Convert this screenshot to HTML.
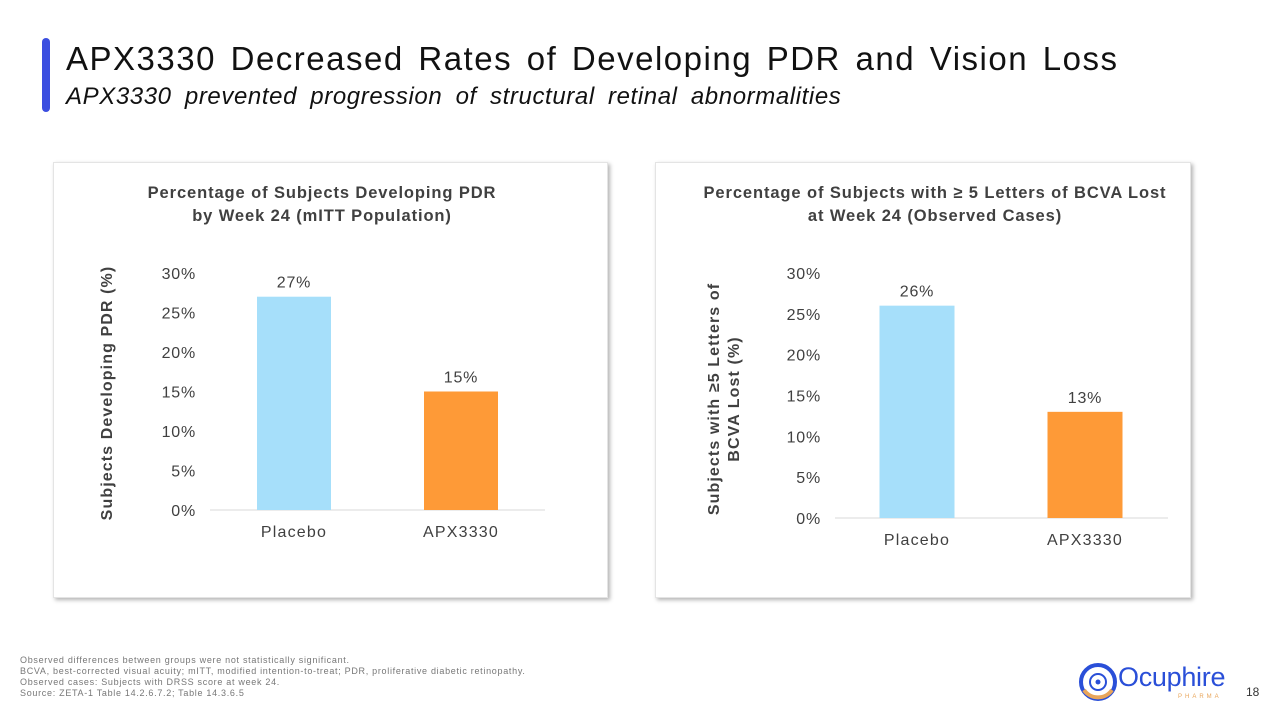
<!DOCTYPE html>
<html><head><meta charset="utf-8"><style>
body{margin:0;width:1280px;height:720px;background:#fff;font-family:"Liberation Sans",Arial,sans-serif;position:relative;overflow:hidden}
.abs{position:absolute}
.panel{position:absolute;background:#fff;box-shadow:2px 2px 4px rgba(0,0,0,0.3);border:1px solid #e4e4e4}
.foot{font-size:9px;color:#777;line-height:11px;letter-spacing:0.7px}
</style></head><body>
<div class="abs" style="left:42px;top:38px;width:8px;height:74px;background:#3b4ee0;border-radius:4px"></div>
<div class="abs" style="left:66px;top:40px;font-size:33px;letter-spacing:1.5px;word-spacing:4px;color:#111;white-space:nowrap">APX3330 Decreased Rates of Developing PDR and Vision Loss</div>
<div class="abs" style="left:66px;top:83px;font-size:24px;letter-spacing:0.6px;word-spacing:6px;font-style:italic;color:#111;white-space:nowrap">APX3330 prevented progression of structural retinal abnormalities</div>

<div class="panel" style="left:53px;top:162px;width:553px;height:434px"></div>
<div class="panel" style="left:655px;top:162px;width:534px;height:434px"></div>
<svg id="chart" class="abs" style="left:0;top:0" width="1280" height="720"></svg>

<div class="abs foot" style="left:20px;top:655px">Observed differences between groups were not statistically significant.<br>BCVA, best-corrected visual acuity; mITT, modified intention-to-treat; PDR, proliferative diabetic retinopathy.<br>Observed cases: Subjects with DRSS score at week 24.<br>Source: ZETA-1 Table 14.2.6.7.2; Table 14.3.6.5</div>
<div class="abs" style="left:1078px;top:660px;width:150px;height:44px">
<svg width="40" height="44" style="position:absolute;left:0;top:0"><circle cx="20" cy="22" r="17" fill="none" stroke="#2a4fd8" stroke-width="4"/><path d="M6 30 A17 17 0 0 0 34 30" fill="none" stroke="#e8a55a" stroke-width="4"/><circle cx="20" cy="22" r="8" fill="none" stroke="#2a4fd8" stroke-width="2"/><circle cx="20" cy="22" r="2.5" fill="#2a4fd8"/></svg>
<div style="position:absolute;left:40px;top:2px;font-size:27px;color:#2a4fd8;letter-spacing:-0.3px">Ocuphire</div>
<div style="position:absolute;left:100px;top:34px;font-size:6px;color:#e8a55a;letter-spacing:3px">PHARMA</div>
</div>
<div class="abs" style="left:1246px;top:685px;font-size:12px;color:#333">18</div>

<script>
const categories = ["Placebo", "APX3330"];
const leftValues = [27, 15];
const rightValues = [26, 13];
const tickValues = [0, 5, 10, 15, 20, 25, 30];
const colors = ["#a6dffa", "#fe9a37"];
const NS = "http://www.w3.org/2000/svg";
const svg = document.getElementById("chart");
function mk(tag, attrs, text){const e=document.createElementNS(NS,tag);for(const k in attrs)e.setAttribute(k,attrs[k]);if(text!==undefined)e.textContent=text;svg.appendChild(e);return e;}
function drawChart(cfg, values, id){
  const y = v => cfg.base - v/30*(cfg.base-cfg.top);
  const ax = mk("line",{x1:cfg.axL,x2:cfg.axR,y1:cfg.base,y2:cfg.base,stroke:"#d9d9d9","stroke-width":1});
  
  
  tickValues.forEach(t=>{
    const tl = mk("text",{x:cfg.tickX,y:y(t)+6,"text-anchor":"end","font-size":16,"letter-spacing":0.8,fill:"#404040"},t+"%");
    
    
  });
  values.forEach((v,i)=>{
    const cx = cfg.c0 + i*cfg.step;
    const b = mk("rect",{x:cx-cfg.bw/2,y:y(v),width:cfg.bw,height:cfg.base-y(v),fill:colors[i]});
    
    
    const l = mk("text",{x:cx,y:y(v)-9,"text-anchor":"middle","font-size":16,"letter-spacing":0.8,fill:"#404040"},v+"%");
    
    
    const c = mk("text",{x:cx,y:cfg.base+27,"text-anchor":"middle","font-size":16,"letter-spacing":1.2,fill:"#404040"},categories[i]);
    
    
  });
  cfg.title.forEach((s,k)=>{
    const t = mk("text",{x:cfg.titleX,y:cfg.titleY+k*23,"text-anchor":"middle","font-size":16.5,"letter-spacing":0.9,"font-weight":"bold",fill:"#404040"},s);
    
    
  });
  cfg.ytitle.forEach((s,k)=>{
    const yl = mk("text",{x:0,y:0,"text-anchor":"middle","font-size":16,"letter-spacing":1.1,"font-weight":"bold",fill:"#404040",transform:`translate(${cfg.ytX+k*20},${cfg.ytY}) rotate(-90)`},s);
    
    
  });
}
drawChart({base:510,top:273,axL:210,axR:545,tickX:196,c0:294,step:167,bw:74,title:["Percentage of Subjects Developing PDR","by Week 24 (mITT Population)"],titleX:322,titleY:198,ytitle:["Subjects Developing PDR (%)"],ytX:112,ytY:393},leftValues,"left");
drawChart({base:518,top:273,axL:835,axR:1168,tickX:821,c0:917,step:168,bw:75,title:["Percentage of Subjects with ≥ 5 Letters of BCVA Lost","at Week 24 (Observed Cases)"],titleX:935,titleY:198,ytitle:["Subjects with ≥5 Letters of","BCVA Lost (%)"],ytX:719,ytY:399},rightValues,"right");
</script>
</body></html>
